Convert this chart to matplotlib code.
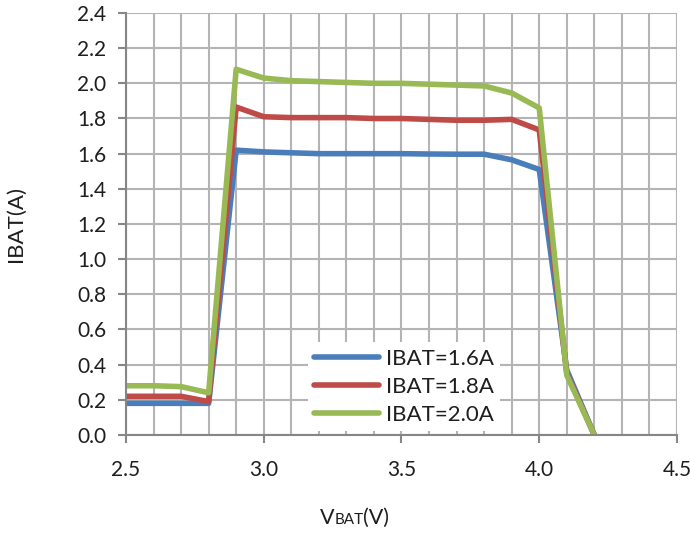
import matplotlib
matplotlib.use("Agg")
import matplotlib.pyplot as plt
from matplotlib.ticker import MultipleLocator
from matplotlib.offsetbox import TextArea, HPacker, AnchoredOffsetbox

plt.rcParams["font.family"] = ["Lato", "DejaVu Sans"]

# battery voltage [V]
vbat = [2.5, 2.6, 2.7, 2.8, 2.9, 3.0, 3.1, 3.2, 3.3, 3.4, 3.5, 3.6, 3.7, 3.8, 3.9, 4.0, 4.1, 4.2]

# charge current [A] for each setting
ibat_16 = [0.18, 0.18, 0.18, 0.18, 1.62, 1.61, 1.605, 1.60, 1.60, 1.60, 1.60, 1.598, 1.597, 1.597, 1.565, 1.51, 0.37, 0.0]
ibat_18 = [0.22, 0.22, 0.22, 0.19, 1.865, 1.81, 1.805, 1.805, 1.805, 1.80, 1.80, 1.795, 1.79, 1.79, 1.795, 1.735, 0.35, 0.0]
ibat_20 = [0.28, 0.28, 0.275, 0.24, 2.08, 2.03, 2.015, 2.01, 2.005, 2.0, 2.0, 1.995, 1.99, 1.985, 1.945, 1.86, 0.34, 0.0]

labels = ["IBAT=1.6A", "IBAT=1.8A", "IBAT=2.0A"]
colors = ["#4a7ebb", "#be4b48", "#98b954"]

TXT = "#1e1e1e"


def main():
    fig = plt.figure(figsize=(6.9, 5.33), dpi=100)
    ax = fig.add_axes([0.1826, 0.1839, 0.7985, 0.7917])

    for ys, lab, col in zip([ibat_16, ibat_18, ibat_20], labels, colors):
        ax.plot(vbat, ys, color=col, lw=4.0, label=lab,
                solid_joinstyle="round", solid_capstyle="round")

    ax.set_xlim(2.5, 4.5)
    ax.set_ylim(0, 2.4)
    ax.xaxis.set_major_locator(MultipleLocator(0.5))
    ax.xaxis.set_minor_locator(MultipleLocator(0.1))
    ax.yaxis.set_major_locator(MultipleLocator(0.2))
    ax.xaxis.set_major_formatter(lambda v, p: f"{v:.1f}")
    ax.yaxis.set_major_formatter(lambda v, p: f"{v:.1f}")

    ax.grid(which="both", color="#b4b4b4", lw=1.5)
    ax.set_axisbelow(True)
    for s in ["top", "right"]:
        ax.spines[s].set_visible(False)
    for s in ["left", "bottom"]:
        ax.spines[s].set_color("#868686")
        ax.spines[s].set_linewidth(1.5)
    ax.tick_params(which="major", direction="out", length=6, width=1.5,
                   color="#868686", labelsize=15, labelcolor=TXT)
    ax.tick_params(axis="x", which="major", pad=12)
    ax.tick_params(axis="y", which="major", pad=8)
    ax.tick_params(which="minor", length=0)

    ax.set_ylabel("IBAT(A)", fontsize=16, color=TXT, labelpad=37)

    # x label: V with small-caps BAT
    parts = [TextArea("V", textprops=dict(fontsize=15.5, color=TXT)),
             TextArea("BAT", textprops=dict(fontsize=11, color=TXT)),
             TextArea("(V)", textprops=dict(fontsize=15.5, color=TXT))]
    box = HPacker(children=parts, align="baseline", pad=0, sep=0)
    anch = AnchoredOffsetbox(loc="center", child=box, frameon=False,
                             bbox_to_anchor=(0.415, -0.197),
                             bbox_transform=ax.transAxes, borderpad=0)
    ax.add_artist(anch)

    leg = ax.legend(loc="upper left", bbox_to_anchor=(0.33, 0.22),
                    borderaxespad=0, fontsize=16, handlelength=2.9,
                    handletextpad=0.3, labelspacing=0.36, frameon=True,
                    fancybox=False, framealpha=1, borderpad=0.3)
    leg.get_frame().set_edgecolor("none")
    leg.get_frame().set_facecolor("white")
    for t in leg.get_texts():
        t.set_color(TXT)

    fig.savefig("out.png", dpi=100)


if __name__ == "__main__":
    main()
